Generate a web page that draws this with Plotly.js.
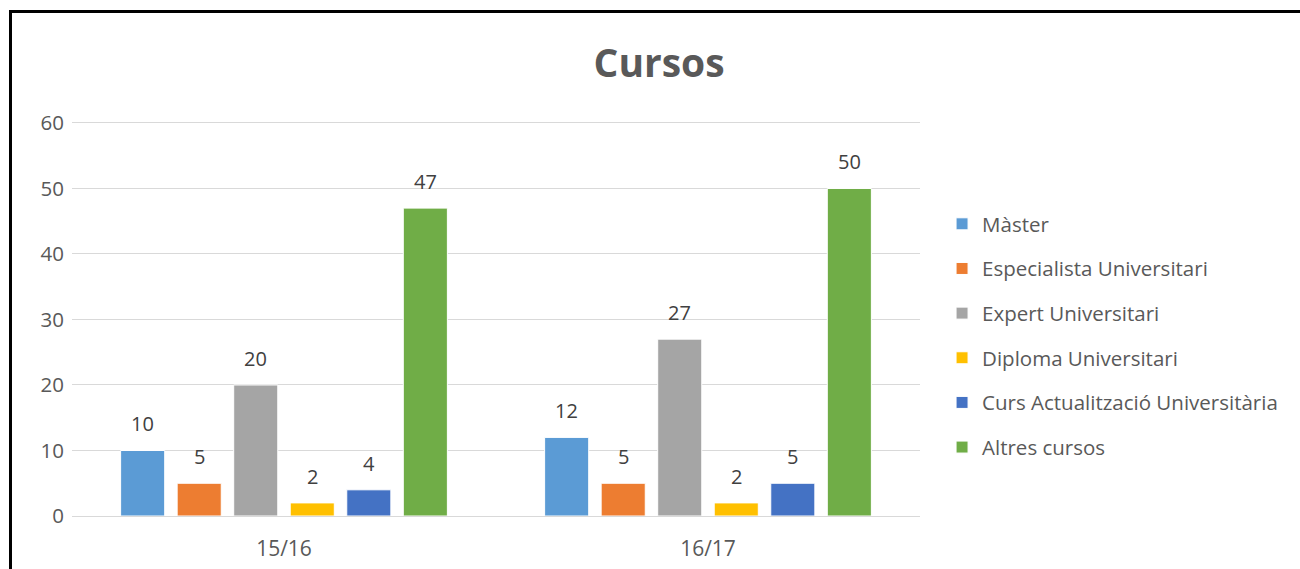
<!DOCTYPE html>
<html>
<head>
<meta charset="utf-8">
<script src="https://cdn.plot.ly/plotly-3.0.1.min.js"></script>
<style>
  html, body { margin: 0; padding: 0; background: #fff; overflow: hidden; }
  #chart { position: absolute; left: 0; top: 0; width: 1300px; height: 569px; }
  #frame { position: absolute; left: 9px; top: 10px; width: 1400px; height: 700px;
           border-left: 3px solid #000; border-top: 3px solid #000; pointer-events: none; }
</style>
</head>
<body>
<div id="chart"></div>
<div id="frame"></div>
<script>
const categories = ["15/16", "16/17"];
const seriesNames = ["Màster", "Especialista Universitari", "Expert Universitari",
                     "Diploma Universitari", "Curs Actualització Universitària", "Altres cursos"];
const master = [10, 12];
const especialista = [5, 5];
const expert = [20, 27];
const diploma = [2, 2];
const actualitzacio = [4, 5];
const altres = [47, 50];
const colors = ["#5B9BD5", "#ED7D31", "#A5A5A5", "#FFC000", "#4472C4", "#70AD47"];

const seriesValues = [master, especialista, expert, diploma, actualitzacio, altres];
const FONT = "'Open Sans', 'Noto Sans', sans-serif";
const BARGAP = 0.2;
const nSeries = seriesValues.length;

const traces = seriesValues.map((vals, i) => ({
  type: "bar",
  name: seriesNames[i],
  x: categories,
  y: vals,
  marker: { color: colors[i], line: { color: "#ffffff", width: 1 } },
  legendgroup: "g" + i,
  hoverinfo: "x+y+name"
}));

// value labels placed above each bar, positioned from the data through the axes
const slot = (1 - BARGAP) / nSeries;
const annotations = [];
seriesValues.forEach((vals, i) => {
  vals.forEach((v, j) => {
    annotations.push({
      x: j + (i - (nSeries - 1) / 2) * slot,
      y: v,
      xref: "x", yref: "y",
      text: String(v),
      showarrow: false,
      xanchor: "center", yanchor: "bottom",
      yshift: 11,
      font: { family: FONT, size: 20, color: "#404040" }
    });
  });
});

const layout = {
  width: 1300,
  height: 569,
  paper_bgcolor: "#ffffff",
  plot_bgcolor: "#ffffff",
  margin: { l: 72, r: 380, t: 121, b: 53, pad: 0 },
  title: {
    text: "<b>Cursos</b>",
    font: { family: FONT, size: 39, color: "#595959" },
    x: 0.507, xref: "container", xanchor: "center",
    y: 0.888, yref: "container", yanchor: "middle"
  },
  barmode: "group",
  bargap: BARGAP,
  bargroupgap: 0.22,
  showlegend: true,
  legend: {
    x: 1.026, xanchor: "left",
    y: 0.457, yanchor: "middle",
    font: { family: FONT, size: 20.5, color: "#595959" },
    traceorder: "grouped",
    tracegroupgap: 15,
    bgcolor: "rgba(0,0,0,0)"
  },
  annotations: annotations,
  xaxis: {
    type: "category",
    range: [-0.5, 1.5],
    showgrid: false,
    showline: true,
    linecolor: "#d9d9d9",
    linewidth: 1,
    zeroline: false,
    ticks: "outside",
    ticklen: 14,
    tickcolor: "rgba(0,0,0,0)",
    tickfont: { family: FONT, size: 21, color: "#595959" }
  },
  yaxis: {
    range: [0, 60.3],
    tickvals: [0, 10, 20, 30, 40, 50, 60],
    showgrid: true,
    gridcolor: "#d9d9d9",
    gridwidth: 1,
    zeroline: false,
    showline: false,
    ticks: "outside",
    ticklen: 3,
    tickcolor: "rgba(0,0,0,0)",
    tickfont: { family: FONT, size: 20.5, color: "#595959" }
  },
  font: { family: FONT }
};

Plotly.newPlot("chart", traces, layout, { displayModeBar: false, staticPlot: true });
</script>
</body>
</html>
